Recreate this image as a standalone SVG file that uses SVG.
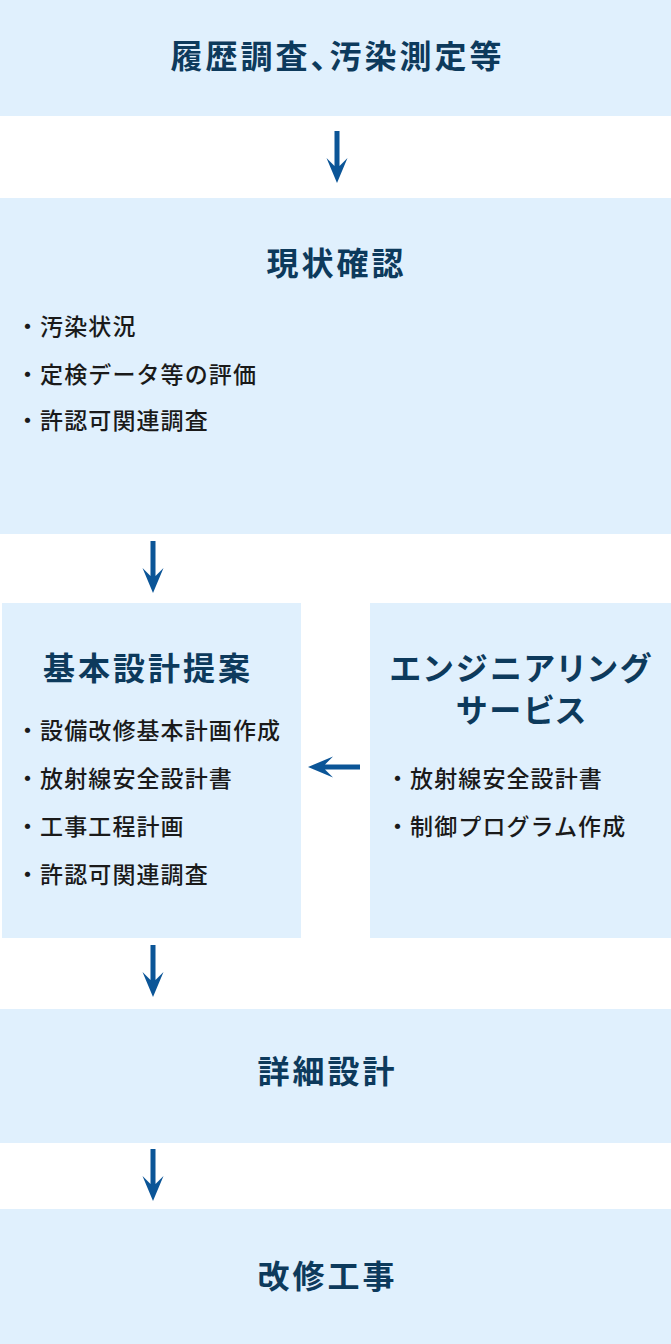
<svg xmlns="http://www.w3.org/2000/svg" width="671" height="1344" viewBox="0 0 671 1344">
<style>
.box{fill:#e0f0fd}
.t{font-family:"Noto Sans CJK JP","Noto Sans",sans-serif;font-weight:700;font-size:32px;fill:#0d3a5c;text-anchor:middle;letter-spacing:3px;font-feature-settings:"palt"}
.b{font-family:"Noto Sans CJK JP","Noto Sans",sans-serif;font-weight:500;font-size:23px;fill:#1a1a1a;letter-spacing:1.1px}
.ar{fill:#0b5597}
</style>
<rect width="671" height="1344" fill="#fff"/>
<g id="n1"><rect class="box" x="0" y="0" width="671" height="116"/><text class="t" x="337.5" y="68">履歴調査、汚染測定等</text></g>
<g id="n2"><rect class="box" x="0" y="198" width="671" height="336"/><text class="t" x="336.5" y="275">現状確認</text>
<text class="b" x="16" y="335">・汚染状況</text>
<text class="b" x="16" y="383">・定検データ等の評価</text>
<text class="b" x="16" y="429">・許認可関連調査</text></g>
<g id="n3"><rect class="box" x="2" y="603" width="299" height="335"/><text class="t" x="148" y="680">基本設計提案</text>
<text class="b" x="16" y="739">・設備改修基本計画作成</text>
<text class="b" x="16" y="787">・放射線安全設計書</text>
<text class="b" x="16" y="835">・工事工程計画</text>
<text class="b" x="16" y="883">・許認可関連調査</text></g>
<g id="n4"><rect class="box" x="370" y="603" width="301" height="335"/><text class="t" x="521.5" y="680">エンジニアリング</text><text class="t" x="522.5" y="722">サービス</text>
<text class="b" x="386" y="787">・放射線安全設計書</text>
<text class="b" x="386" y="835">・制御プログラム作成</text></g>
<g id="n5"><rect class="box" x="0" y="1009" width="671" height="134"/><text class="t" x="327.5" y="1083">詳細設計</text></g>
<g id="n6"><rect class="box" x="0" y="1209" width="671" height="135"/><text class="t" x="327.5" y="1288">改修工事</text></g>
<g id="connectors">
<path class="ar" d="M334.5,131H339.5V166L347.5,158L337,183L326.5,158L334.5,166Z"/>
<path class="ar" d="M150.5,541H155.5V576L163.5,568L153,593L142.5,568L150.5,576Z"/>
<path class="ar" d="M150.5,945H155.5V980L163.5,972L153,997L142.5,972L150.5,980Z"/>
<path class="ar" d="M150.5,1149H155.5V1184L163.5,1176L153,1201L142.5,1176L150.5,1184Z"/>
<path class="ar" d="M360,764.5V769.5H325L333,777.5L308,767L333,756.5L325,764.5Z"/>
</g>
</svg>
